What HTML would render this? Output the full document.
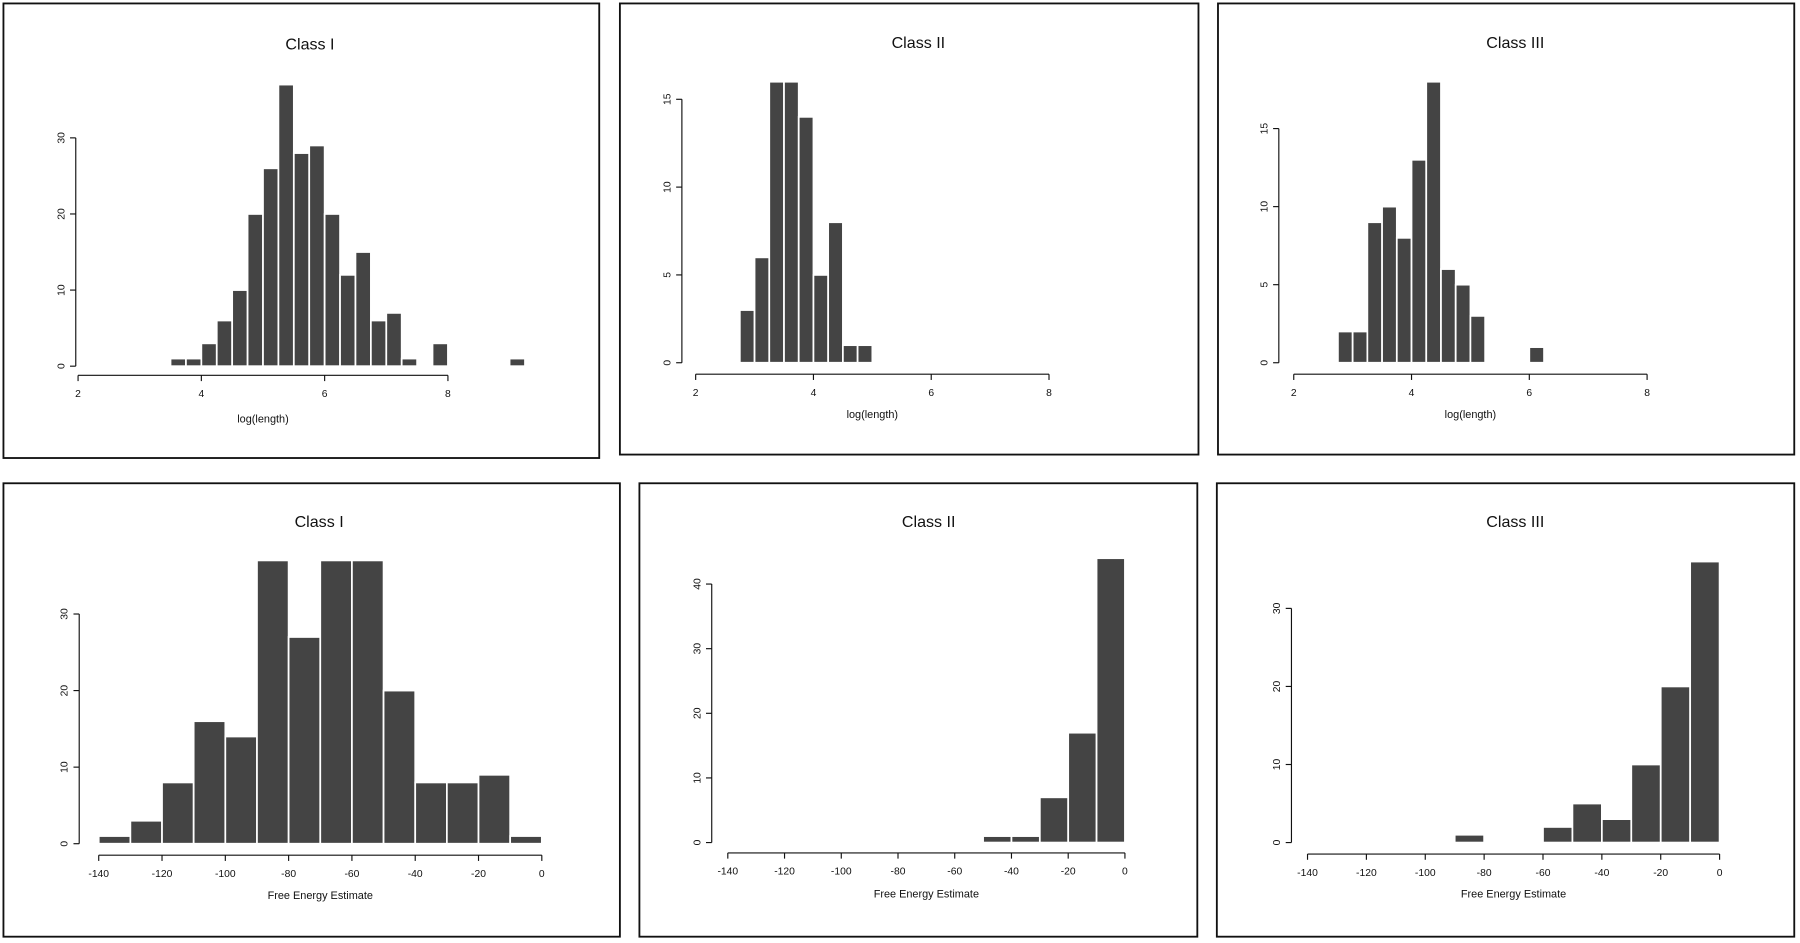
<!DOCTYPE html>
<html><head><meta charset="utf-8"><style>
html,body{margin:0;padding:0;background:#fff;}
svg{display:block;font-family:"Liberation Sans",sans-serif;}
</style></head><body>
<svg id="fig" width="1800" height="943" viewBox="0 0 1568 821.5" preserveAspectRatio="none" xmlns="http://www.w3.org/2000/svg"></svg>
<script>
// Data (bin starts and counts)
const p1Bins = [3.5,3.75,4.0,4.25,4.5,4.75,5.0,5.25,5.5,5.75,6.0,6.25,6.5,6.75,7.0,7.25,7.75,9.0];
const p1Counts = [1,1,3,6,10,20,26,37,28,29,20,12,15,6,7,1,3,1];
const p2Bins = [2.75,3.0,3.25,3.5,3.75,4.0,4.25,4.5,4.75];
const p2Counts = [3,6,16,16,14,5,8,1,1];
const p3Bins = [2.75,3.0,3.25,3.5,3.75,4.0,4.25,4.5,4.75,5.0,6.0];
const p3Counts = [2,2,9,10,8,13,18,6,5,3,1];
const p4Bins = [-140,-130,-120,-110,-100,-90,-80,-70,-60,-50,-40,-30,-20,-10];
const p4Counts = [1,3,8,16,14,37,27,37,37,20,8,8,9,1];
const p5Bins = [-50,-40,-30,-20,-10];
const p5Counts = [1,1,7,17,44];
const p6Bins = [-90,-60,-50,-40,-30,-20,-10];
const p6Counts = [1,2,5,3,10,20,36];
const lenTicks = [2,4,6,8];
const energyTicks = [-140,-120,-100,-80,-60,-40,-20,0];
const yTicks1 = [0,10,20,30];
const yTicks2 = [0,5,10,15];
const yTicks5 = [0,10,20,30,40];

const NS="http://www.w3.org/2000/svg";
const svg=document.getElementById('fig');
function mk(tag,attrs,parent){const e=document.createElementNS(NS,tag);for(const k in attrs)e.setAttribute(k,attrs[k]);(parent||svg).appendChild(e);return e;}

const panels=[
 {id:'length-class-1',frame:[3,3,519,396],title:'Class I',tx:270,ty:43,ax:66,y0:319,ypu:6.63,yt:yTicks1,xa:327,x0:68,xv0:2,xpu:53.7,xt:lenTicks,bins:p1Bins,counts:p1Counts,bw:0.25,xl:'log(length)',xly:368},
 {id:'length-class-2',frame:[540,3,504,393],title:'Class II',tx:800,ty:42,ax:594,y0:316,ypu:15.3,yt:yTicks2,xa:326,x0:606,xv0:2,xpu:51.3,xt:lenTicks,bins:p2Bins,counts:p2Counts,bw:0.25,xl:'log(length)',xly:364},
 {id:'length-class-3',frame:[1061,3,502,393],title:'Class III',tx:1320,ty:42,ax:1114,y0:316,ypu:13.6,yt:yTicks2,xa:326,x0:1127,xv0:2,xpu:51.3,xt:lenTicks,bins:p3Bins,counts:p3Counts,bw:0.25,xl:'log(length)',xly:364},
 {id:'energy-class-1',frame:[3,421,537,395],title:'Class I',tx:278,ty:459,ax:69,y0:735,ypu:6.67,yt:yTicks1,xa:745,x0:86,xv0:-140,xpu:2.757,xt:energyTicks,bins:p4Bins,counts:p4Counts,bw:10,xl:'Free Energy Estimate',xly:783},
 {id:'energy-class-2',frame:[557,421,486,395],title:'Class II',tx:809,ty:459,ax:620,y0:734,ypu:5.63,yt:yTicks5,xa:743,x0:634,xv0:-140,xpu:2.471,xt:energyTicks,bins:p5Bins,counts:p5Counts,bw:10,xl:'Free Energy Estimate',xly:782},
 {id:'energy-class-3',frame:[1060,421,503,395],title:'Class III',tx:1320,ty:459,ax:1125,y0:734,ypu:6.8,yt:yTicks1,xa:744,x0:1139,xv0:-140,xpu:2.564,xt:energyTicks,bins:p6Bins,counts:p6Counts,bw:10,xl:'Free Energy Estimate',xly:782}
];

panels.forEach(p=>{
 const g=mk('g',{});
 
 
 const X=v=>p.x0+(v-p.xv0)*p.xpu;
 const Y=v=>p.y0-v*p.ypu;
 const fr=mk('rect',{x:p.frame[0],y:p.frame[1],width:p.frame[2],height:p.frame[3],fill:'none',stroke:'#111','stroke-width':1.6},g);
 
 
 const t=mk('text',{x:p.tx,y:p.ty,'text-anchor':'middle','font-size':14,fill:'#111'},g);
 t.textContent=p.title;
 
 
 // bars
 p.bins.forEach((b,i)=>{
  const c=p.counts[i];
  const r=mk('rect',{x:X(b),y:Y(c),width:p.bw*p.xpu,height:c*p.ypu,fill:'#444',stroke:'#fff','stroke-width':1.5},g);
  
  
 });
 // y axis
 const yMax=p.yt[p.yt.length-1];
 const ya=mk('line',{x1:p.ax,y1:Y(0),x2:p.ax,y2:Y(yMax),stroke:'#111','stroke-width':1},g);
 
 
 p.yt.forEach(v=>{
  mk('line',{x1:p.ax-5,y1:Y(v),x2:p.ax,y2:Y(v),stroke:'#111','stroke-width':1},g);
  const tl=mk('text',{x:0,y:0,transform:`translate(${p.ax-10},${Y(v)}) rotate(-90)`,'text-anchor':'middle','font-size':9,fill:'#111'},g);
  tl.textContent=v;
  
  
 });
 // x axis
 const xMin=p.xt[0],xMax=p.xt[p.xt.length-1];
 const xa=mk('line',{x1:X(xMin),y1:p.xa,x2:X(xMax),y2:p.xa,stroke:'#111','stroke-width':1},g);
 
 
 p.xt.forEach(v=>{
  mk('line',{x1:X(v),y1:p.xa,x2:X(v),y2:p.xa+5,stroke:'#111','stroke-width':1},g);
  const tl=mk('text',{x:X(v),y:p.xa+19,'text-anchor':'middle','font-size':9,fill:'#111'},g);
  tl.textContent=v;
  
  
 });
 const xl=mk('text',{x:(X(xMin)+X(xMax))/2,y:p.xly,'text-anchor':'middle','font-size':9.5,fill:'#111'},g);
 xl.textContent=p.xl;
 
 
});
</script>
</body></html>
